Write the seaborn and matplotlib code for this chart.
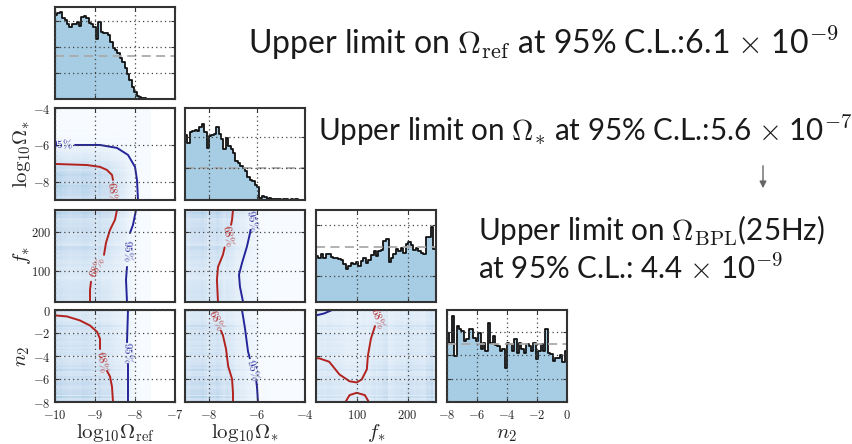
import numpy as np
import pandas as pd
import matplotlib.pyplot as plt
import matplotlib.patches as mpatches
import seaborn as sns

sns.set_style('ticks')
plt.rcParams['font.family'] = ['Lato', 'DejaVu Sans']
plt.rcParams['mathtext.fontset'] = 'cm'

# parameters of the corner plot
labels = [r'$\mathrm{log}_{10}\Omega_{\rm ref}$', r'$\mathrm{log}_{10}\Omega_{*}$', r'$f_{*}$', r'$n_2$']
ranges = [(-10, -7), (-9, -4), (20, 256), (-8, 0)]
ticks = [[-10, -9, -8, -7], [-8, -6, -4], [100, 200], [-8, -6, -4, -2, 0]]

# marginal posterior histograms (heights)
hist_ref = [3.24, 3.31, 3.37, 3.12, 3.05, 2.90, 2.79, 2.92, 2.90, 2.99,
            2.82, 3.18, 3.22, 3.15, 2.95, 2.90, 2.79, 2.31, 2.99, 2.60,
            2.56, 2.54, 2.47, 2.22, 1.96, 1.90, 1.77, 1.58, 1.45, 1.19,
            0.97, 0.74, 0.46, 0.26, 0.13, 0.08, 0.04, 0.02, 0.01, 0.01,
            0, 0, 0, 0, 0, 0, 0, 0, 0, 0]
hist_star = [2.04, 1.81, 2.13, 2.18, 2.21, 2.16, 2.29, 2.41, 2.15, 1.65,
             2.02, 2.04, 2.07, 2.29, 2.07, 1.91, 1.62, 1.94, 1.70, 1.62,
             1.49, 1.22, 1.17, 1.06, 1.01, 0.90, 0.74, 0.64, 0.59, 0.48,
             0.40, 0.05, 0.13, 0.11, 0.03, 0.07, 0.02, 0.04, 0.02, 0.03,
             0.01, 0.02, 0.02, 0.01, 0.02, 0.01, 0.02, 0.01, 0.01, 0.01]
hist_f = [1.80, 1.74, 1.87, 1.71, 1.87, 1.89, 1.76, 1.71, 1.71, 1.67,
          1.63, 1.47, 1.28, 1.41, 1.54, 1.47, 1.58, 1.41, 1.61, 1.74,
          1.54, 1.63, 1.84, 2.00, 1.80, 2.00, 2.03, 2.39, 2.46, 1.57,
          1.74, 1.87, 2.07, 2.00, 2.13, 1.93, 2.26, 2.33, 2.22, 2.03,
          2.13, 2.00, 1.93, 1.89, 2.53, 2.53, 2.92, 2.07]
hist_n2 = [2.97, 2.54, 3.69, 1.97, 3.26, 3.11, 3.04, 2.61, 2.69, 3.11,
           3.14, 2.76, 2.61, 2.97, 2.26, 2.54, 2.19, 3.40, 2.54, 2.83,
           2.43, 2.40, 2.19, 2.26, 1.47, 2.54, 2.47, 2.19, 2.71, 2.11,
           2.54, 2.26, 2.11, 2.47, 2.40, 2.19, 2.54, 1.83, 2.19, 2.47,
           2.19, 3.14, 2.11, 2.04, 1.76, 1.90, 1.90, 2.00, 1.71, 2.19]
hists = [hist_ref, hist_star, hist_f, hist_n2]
prior_level = [1.67, 1.0, 2.17, 2.47]
hist_top = [3.56, 2.9, 3.6, 3.94]
hist_grid = [[1, 2, 3], [1, 2], [1, 3], [1, 2, 3]]

# credible contours: (row, col) -> list of (x, y, level) segments
c68 = '#b3221e'
c95 = '#25259a'
contours = {
    (1, 0): [([-9.5, -8.875, -8.45, -8.175, -8.0, -7.95, -7.925], [-6.01, -6.01, -6.17, -6.55, -7.2, -7.91, -9.0], 95),
             ([-10, -9.2, -8.875, -8.7, -8.575, -8.55], [-7.04, -7.1, -7.2, -7.37, -7.64, -7.91], 68)],
    (2, 0): [([-8.45, -8.5, -8.625, -8.725, -8.775], [256, 231, 205, 172, 141], 68),
             ([-9.1, -9.125, -9.125], [72, 51, 20], 68),
             ([-7.975, -8.05, -8.125], [256, 218, 197], 95),
             ([-8.2, -8.225, -8.2], [110, 77, 20], 95)],
    (3, 0): [([-10, -9.7, -9.375, -9.125, -8.95, -8.875, -8.875], [-0.47, -0.56, -0.91, -1.35, -1.89, -2.5, -3.39], 68),
             ([-8.7, -8.625, -8.575, -8.55], [-5.3, -5.78, -6.67, -8.0], 68),
             ([-8.175, -8.2], [0, -2.8], 95),
             ([-8.175, -8.175], [-4.7, -8], 95)],
    (2, 1): [([-7.0, -7.04, -7.08], [256, 231, 218], 68),
             ([-7.35, -7.42, -7.625, -7.67, -7.625], [160, 141, 110, 77, 20], 68),
             ([-6.27, -6.29, -6.42, -6.625, -6.75, -6.71, -6.58], [205, 197, 162, 120, 90, 59, 20], 95)],
    (3, 1): [([-7.5, -7.42, -7.29, -7.2, -7.04, -7.0, -7.0], [-1.8, -2.2, -3.4, -4.9, -6.0, -7.2, -8], 68),
             ([-6.625, -6.5, -6.375, -6.3], [0, -1.6, -3.6, -4.2], 95),
             ([-6.03, -6.0, -5.96], [-6.2, -6.7, -8], 95)],
    (3, 2): [([20, 36, 52], [-0.47, -0.3, 0], 95),
             ([136, 128, 122, 120, 110, 100, 86, 66, 46, 26, 20], [-1.4, -2.5, -4.0, -5.16, -6.04, -6.3, -6.2, -5.6, -4.5, -4.2, -4.2], 68),
             ([78, 86, 100, 116, 124], [-8, -7.4, -7.2, -7.4, -8], 68)],
}
# contour labels: (row, col) -> (x, y, level, rotation)
contour_labels = {
    (1, 0): [(-9.83, -6.0, 95, 0), (-8.55, -8.6, 68, -85)],
    (2, 0): [(-8.95, 108, 68, 64), (-8.175, 152, 95, -88)],
    (3, 0): [(-8.82, -4.45, 68, -80), (-8.18, -3.75, 95, -88)],
    (2, 1): [(-7.2, 190, 68, -80), (-6.2, 230, 95, -80)],
    (3, 1): [(-7.67, -0.9, 68, -65), (-6.15, -5.2, 95, -75)],
    (3, 2): [(142, -0.7, 68, -70)],
}

# right-hand annotations: (x, baseline y, size, text)
notes = [(248, 54, 23, r'Upper limit on $\Omega_{\rm ref}$ at 95% C.L.:6.1 $\times$ 10$^{-9}$'),
         (318, 141, 21.3, r'Upper limit on $\Omega_{*}$ at 95% C.L.:5.6 $\times$ 10$^{-7}$'),
         (478, 241, 21.3, r'Upper limit on $\Omega_{\rm BPL}$(25Hz)'),
         (478, 279, 21.3, r'at 95% C.L.: 4.4 $\times$ 10$^{-9}$')]

W, H = 853, 444
fig = plt.figure(figsize=(W / 100, H / 100), dpi=100)
col_x = [55, 185, 316, 447]
row_y = [7, 108, 210, 310]
pw, ph = 120, 92

def fmt(vals):
    return [rf'${v:g}$' for v in vals]

for r in range(4):
    for c in range(r + 1):
        ax = fig.add_axes([col_x[c] / W, 1 - (row_y[r] + ph) / H, pw / W, ph / H])
        lo, hi = ranges[c]
        edges = np.linspace(lo, hi, len(hists[c]) + 1)
        centers = 0.5 * (edges[1:] + edges[:-1])
        if r == c:
            df = pd.DataFrame({'x': centers, 'w': hists[c]})
            sns.histplot(data=df, x='x', weights='w', bins=list(edges), element='step', fill=True,
                         color='#a6cde3', alpha=1, edgecolor='#111111', linewidth=1.3, ax=ax)
            ax.axhline(prior_level[c], color='#aaaaaa', ls='--', lw=1.3, dashes=(5, 3))
            ax.set_ylim(0, hist_top[c])
            ax.set_yticks(hist_grid[c])
            ax.set_yticklabels([])
        else:
            ylo, yhi = ranges[r]
            yedges = np.linspace(ylo, yhi, len(hists[r]) + 1)
            ycenters = 0.5 * (yedges[1:] + yedges[:-1])
            gx, gy = np.meshgrid(centers, ycenters)
            w = np.outer(hists[r], hists[c])
            df = pd.DataFrame({'x': gx.ravel(), 'y': gy.ravel(), 'w': w.ravel()})
            sns.histplot(data=df, x='x', y='y', weights='w', bins=[list(edges), list(yedges)],
                         cmap='Blues', vmin=0, vmax=w.max() / 0.32, ax=ax)
            for xs, ys, lev in contours[(r, c)]:
                sns.lineplot(x=xs, y=ys, sort=False, estimator=None,
                             color=c68 if lev == 68 else c95, lw=1.4, ax=ax)
            for x, y, lev, rot in contour_labels[(r, c)]:
                ax.text(x, y, rf'${lev}\%$', color=c68 if lev == 68 else c95, fontsize=8,
                        rotation=rot, ha='center', va='center', clip_on=True)
            ax.set_ylim(ylo, yhi)
            ax.set_yticks(ticks[r])
            if c == 0:
                ax.set_yticklabels(fmt(ticks[r]), fontsize=9)
            else:
                ax.set_yticklabels([])
        ax.set_xlim(lo, hi)
        ax.set_xticks(ticks[c])
        if r == 3:
            ax.set_xticklabels(fmt(ticks[c]), fontsize=9)
        else:
            ax.set_xticklabels([])
        ax.set_xlabel('')
        ax.set_ylabel('')
        ax.grid(True, ls=(0, (1, 2.5)), color='#444444', lw=0.9)
        ax.set_axisbelow(False)
        ax.tick_params(direction='in', length=3, width=0.8, top=True, right=True,
                       color='#333333', pad=3)
        ax.tick_params(axis='x', pad=4.5)
        for s in ax.spines.values():
            s.set_color('#333333')
            s.set_linewidth(1.5)

# axis labels
for c, xc in enumerate([115, 245, 376, 507]):
    fig.text(xc / W, 1 - 438 / H, labels[c], fontsize=15, ha='center', va='baseline')
for r, yc in zip([1, 2, 3], [154, 256, 356]):
    fig.text(22 / W, 1 - yc / H, labels[r], fontsize=15, ha='center', va='center', rotation=90)

for x, y, size, s in notes:
    fig.text(x / W, 1 - y / H, s, fontsize=size, ha='left', va='baseline', color='#1a1a1a')

fig.add_artist(mpatches.FancyArrowPatch((763 / W, 1 - 163 / H), (763 / W, 1 - 191 / H),
                                        transform=fig.transFigure, arrowstyle='-|>',
                                        mutation_scale=10, color='#666666', lw=1))

plt.savefig('out.png', dpi=100)
